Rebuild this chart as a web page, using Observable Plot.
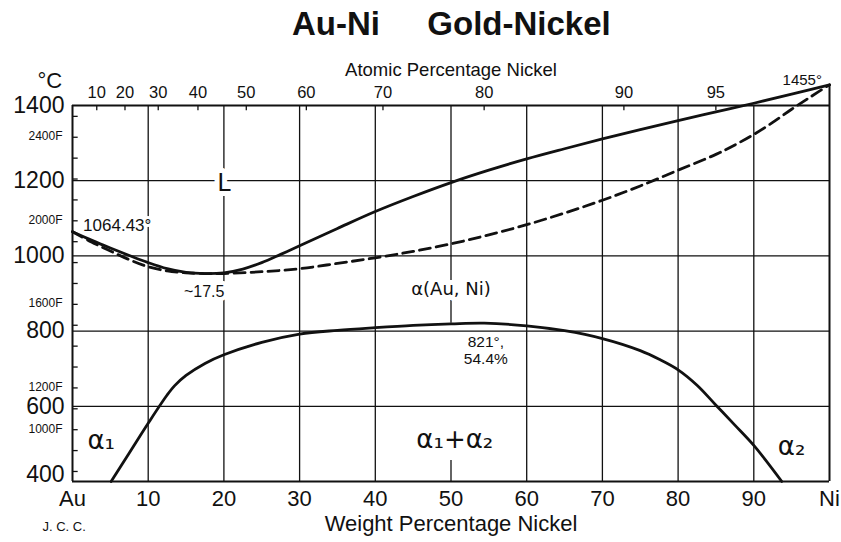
<!DOCTYPE html>
<html>
<head>
<meta charset="utf-8">
<script src="https://cdn.jsdelivr.net/npm/d3@7"></script>
<script src="https://cdn.jsdelivr.net/npm/@observablehq/plot@0.6"></script>
<style>
  html, body { margin: 0; padding: 0; background: #fff; }
  #chart svg { display: block; }
</style>
</head>
<body>
<div id="chart"></div>
<script>
// Au–Ni (gold–nickel) phase diagram: temperature in °C against weight percent nickel.

// Liquidus (solid line)
const liquidusWt = [0, 2.5, 5, 7.5, 10, 12.5, 15, 17.5, 20, 22.5, 25, 27.5, 30, 35, 40, 45, 50, 55, 60, 65, 70, 75, 80, 85, 90, 95, 100];
const liquidusC  = [1064.43, 1042, 1021, 1001, 982, 966, 956, 953, 955, 965, 982, 1004, 1027, 1073, 1118, 1158, 1195, 1228, 1258, 1285, 1311, 1336, 1360, 1383, 1406, 1430, 1455];

// Solidus (dashed line)
const solidusWt = [0, 2.5, 5, 7.5, 10, 12.5, 15, 17.5, 20, 25, 30, 35, 40, 45, 50, 55, 60, 65, 70, 75, 80, 85, 87.5, 90, 92.5, 95, 97.5, 100];
const solidusC  = [1064.43, 1037, 1013, 990, 971, 960, 955, 953, 953, 958, 966, 980, 995, 1012, 1032, 1056, 1083, 1114, 1148, 1186, 1228, 1270, 1295, 1323, 1355, 1390, 1423, 1455];

// Miscibility gap (α1 + α2 solvus)
const solvusWt = [5.1, 7.5, 10, 12.5, 13.5, 15, 17.5, 20, 25, 30, 35, 40, 45, 50, 54.4, 60, 65, 70, 75, 77.5, 80, 82.5, 85, 87.5, 90, 93.7];
const solvusC  = [400, 476, 555, 630, 655, 682, 714, 737, 770, 792, 802, 809, 815, 819, 821, 814, 801, 780, 748, 725, 697, 656, 603, 550, 496, 400];

// Axes
const celsiusTicks = [1400, 1200, 1000, 800, 600, 400];
const fahrenheitTicks = [800, 900, 1000, 1100, 1200, 1300, 1400, 1500, 1600, 1700, 1800, 1900, 2000, 2100, 2200, 2300, 2400, 2500];
const fahrenheitLabels = [1000, 1200, 1600, 2000, 2400];
const weightTicks = [0, 10, 20, 30, 40, 50, 60, 70, 80, 90, 100];
const weightTickLabels = ["Au", "10", "20", "30", "40", "50", "60", "70", "80", "90", "Ni"];
const atomicTicks = [10, 20, 30, 40, 50, 60, 70, 80, 90, 95];
const gridC = [600, 800, 1000, 1200];
const gridWt = [10, 20, 30, 40, 60, 70, 80, 90];

// Annotations inside the diagram
const phaseText = ["L", "α(Au, Ni)", "α₁", "α₁+α₂", "α₂"];
const phaseWt   = [20, 50, 3.8, 50.5, 95];
const phaseC    = [1193, 912, 508, 510, 493];

// Conversions for the secondary scales
const M_NI = 58.693, M_AU = 196.967;
const atomicToWeight = a => 100 * a * M_NI / (a * M_NI + (100 - a) * M_AU);
const fToC = f => (f - 32) * 5 / 9;

const liquidus = liquidusWt.map((w, i) => ({w, c: liquidusC[i]}));
const solidus  = solidusWt.map((w, i) => ({w, c: solidusC[i]}));
const solvus   = solvusWt.map((w, i) => ({w, c: solvusC[i]}));
const phases   = phaseText.map((t, i) => ({t, w: phaseWt[i], c: phaseC[i]}));
const atomic   = atomicTicks.map(a => ({a, w: atomicToWeight(a)}));
const weights  = weightTicks.map((w, i) => ({w, t: weightTickLabels[i]}));

const INK = "#111";
const SANS = "Liberation Sans, Arial, sans-serif";
const GREEK = "DejaVu Sans, sans-serif";

const phaseSize = t => t === "L" ? 24 : t.startsWith("α(") ? 18 : 26;

const chart = Plot.plot({
  width: 841,
  height: 542,
  marginLeft: 72,
  marginRight: 12,
  marginTop: 105,
  marginBottom: 61,
  style: {fontFamily: SANS, color: INK, background: "#fff"},
  x: {domain: [0, 100], axis: null},
  y: {domain: [400, 1400], axis: null},
  marks: [
    // grid
    Plot.ruleX(gridWt, {y1: 400, y2: 1400, stroke: INK, strokeWidth: 1.3}),
    Plot.ruleX([50], {y1: 821, y2: 1400, stroke: INK, strokeWidth: 1.3}),
    Plot.ruleX([50], {y1: 400, y2: 456, stroke: INK, strokeWidth: 1.3}),
    Plot.ruleY(gridC, {x1: 0, x2: 100, stroke: INK, strokeWidth: 1.3}),

    // inner ticks: Fahrenheit on the left, atomic percent along the top
    Plot.ruleY(fahrenheitTicks.map(fToC).filter(c => c >= 400 && c <= 1400), {x1: 0, x2: 0.75, stroke: INK, strokeWidth: 1.3}),
    Plot.ruleX(atomic, {x: "w", y1: 1400, y2: 1386, stroke: INK, strokeWidth: 1.3}),

    // phase-field and point labels, knocked out of the grid
    Plot.text(phases, {x: "w", y: "c", text: "t", fontFamily: GREEK, fontSize: d => phaseSize(d.t),
      fill: INK, stroke: "white", strokeWidth: 10}),
    Plot.text(["1064.43°"], {x: 1.4, y: 1081, textAnchor: "start", fontSize: 17, fill: INK, stroke: "white", strokeWidth: 6}),
    Plot.text(["~17.5"], {x: 17.4, y: 905, fontSize: 16, fill: INK, stroke: "white", strokeWidth: 8}),
    Plot.text(["821°,\n54.4%"], {x: 54.6, y: 750, fontSize: 15.5, lineHeight: 1.08, fill: INK, stroke: "white", strokeWidth: 8}),
    Plot.text(["1455°"], {x: 99, y: 1466, textAnchor: "end", fontSize: 15, fill: INK}),

    // phase boundaries
    Plot.line(solidus, {x: "w", y: "c", curve: "catmull-rom", stroke: INK, strokeWidth: 2.8, strokeDasharray: "11,6"}),
    Plot.line(liquidus, {x: "w", y: "c", curve: "catmull-rom", stroke: INK, strokeWidth: 2.8}),
    Plot.line(solvus, {x: "w", y: "c", curve: "catmull-rom", stroke: INK, strokeWidth: 2.8}),

    // frame
    Plot.ruleY([400, 1400], {x1: 0, x2: 100, stroke: INK, strokeWidth: 2}),
    Plot.ruleX([0], {y1: 400, y2: 1400, stroke: INK, strokeWidth: 2}),
    Plot.ruleX([100], {y1: 400, y2: 1455, stroke: INK, strokeWidth: 2}),

    // Celsius scale
    Plot.text(celsiusTicks.filter(c => c > 400), {x: 0, y: d => d, text: d => String(d), dx: -8, textAnchor: "end", fontSize: 23, fill: INK}),
    Plot.text([400], {x: 0, y: d => d, text: d => String(d), dx: -8, dy: -7, textAnchor: "end", fontSize: 23, fill: INK}),
    Plot.text(["°C"], {frameAnchor: "top-left", lineAnchor: "middle", dx: -35, dy: -25, fontSize: 22, fill: INK}),

    // Fahrenheit labels
    Plot.text(fahrenheitLabels, {x: 0, y: fToC, text: d => `${d}F`, dx: -10, dy: -1, textAnchor: "end", fontSize: 12, fill: INK}),

    // weight percent scale (bottom)
    Plot.text(weights, {x: "w", y: 400, text: "t", dy: 17, fontSize: 22, fill: INK}),
    Plot.text(["Weight Percentage Nickel"], {frameAnchor: "bottom", lineAnchor: "middle", dy: 42, fontSize: 22, fill: INK}),

    // atomic percent scale (top)
    Plot.text(atomic, {x: "w", y: 1400, text: d => String(d.a), dy: -13, fontSize: 16.5, fill: INK}),
    Plot.text(["Atomic Percentage Nickel"], {frameAnchor: "top", lineAnchor: "middle", dy: -35, fontSize: 18.5, fill: INK}),

    // title and credit
    Plot.text(["Au-Ni"], {frameAnchor: "top", lineAnchor: "middle", dx: -115, dy: -81, fontSize: 33, fontWeight: "bold", fill: INK}),
    Plot.text(["Gold-Nickel"], {frameAnchor: "top", lineAnchor: "middle", dx: 68, dy: -81, fontSize: 33, fontWeight: "bold", fill: INK}),
    Plot.text(["J. C. C."], {frameAnchor: "bottom-left", lineAnchor: "middle", dx: -30, dy: 45, fontSize: 13, fill: INK})
  ]
});

document.getElementById("chart").append(chart);
</script>
</body>
</html>
